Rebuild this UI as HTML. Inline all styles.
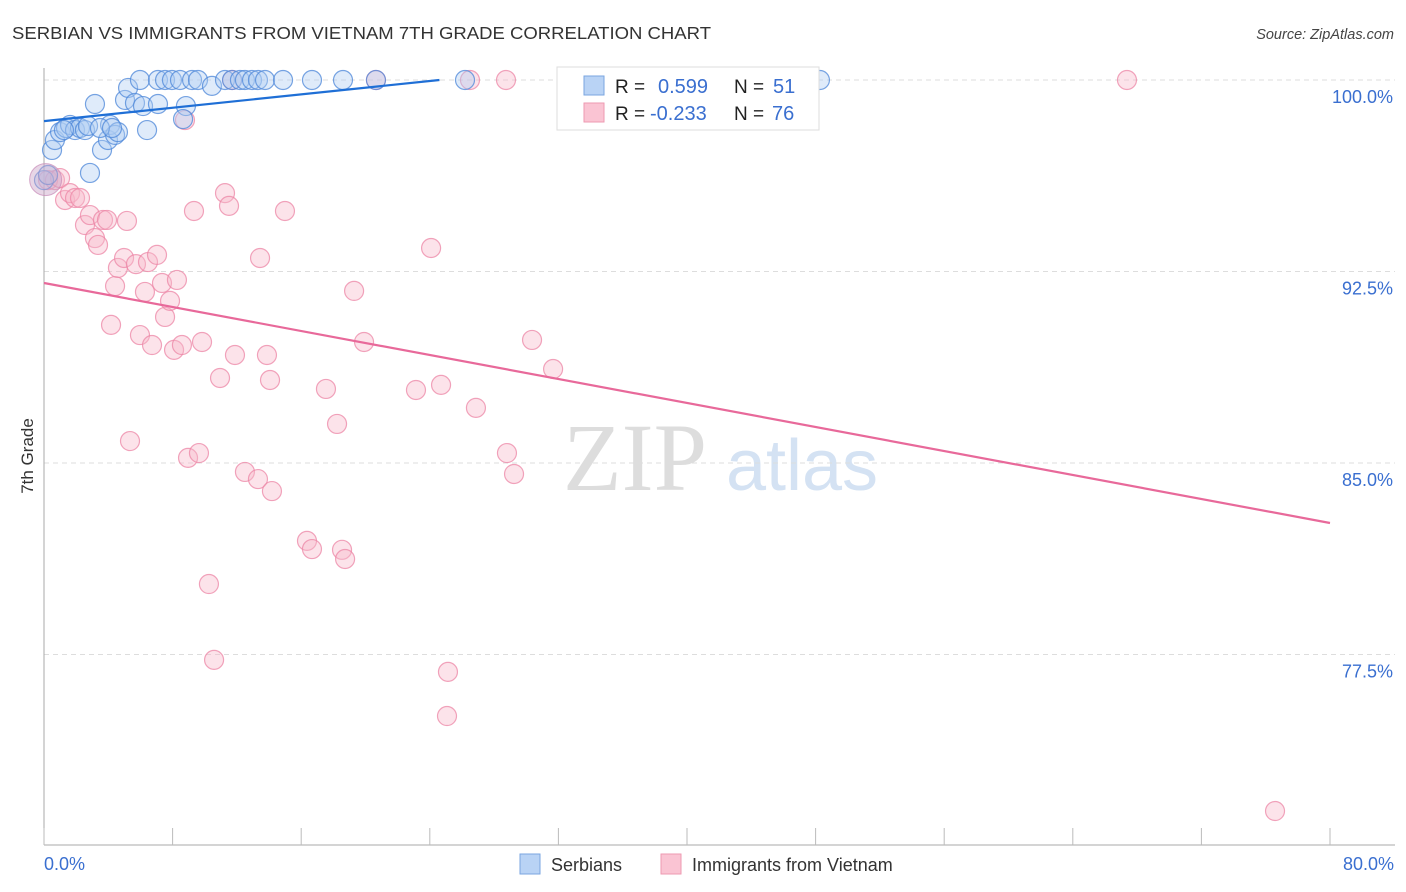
<!DOCTYPE html>
<html><head><meta charset="utf-8"><style>
body{margin:0;background:#fff;font-family:"Liberation Sans",sans-serif;}
svg{display:block}
</style></head><body>
<svg width="1406" height="892" xmlns="http://www.w3.org/2000/svg" id="chart">
<text x="12" y="39" font-size="17.5" fill="#333" textLength="699" lengthAdjust="spacingAndGlyphs">SERBIAN VS IMMIGRANTS FROM VIETNAM 7TH GRADE CORRELATION CHART</text>
<text x="1394" y="39" font-size="14.5" fill="#444" font-style="italic" text-anchor="end">Source: ZipAtlas.com</text>
<text transform="translate(33,456) rotate(-90)" font-size="17" fill="#333" text-anchor="middle">7th Grade</text>
<g>
<text x="635" y="490" font-size="96" fill="#ddd" font-family="Liberation Serif,serif" text-anchor="middle">ZIP</text>
<text x="802" y="490" font-size="72" fill="#d4e2f3" text-anchor="middle">atlas</text>
</g>
<g id="grid"></g><g id="axes"></g><g id="marks"></g>
<g>
<rect x="557" y="67" width="262" height="63" fill="#fff" stroke="#ddd"/>
<rect x="584" y="76" width="20" height="19" fill="#b9d3f5" stroke="#7aa6e0"/>
<rect x="584" y="103" width="20" height="19" fill="#fac4d3" stroke="#ee9ab2"/>
<text x="615" y="93" font-size="19" fill="#222">R = </text><text x="658" y="93" font-size="20" fill="#3a6fd0">0.599</text>
<text x="734" y="93" font-size="19" fill="#222">N = </text><text x="773" y="93" font-size="20" fill="#3a6fd0">51</text>
<text x="615" y="120" font-size="19" fill="#222">R = </text><text x="650" y="120" font-size="20" fill="#3a6fd0">-0.233</text>
<text x="734" y="120" font-size="19" fill="#222">N = </text><text x="772" y="120" font-size="20" fill="#3a6fd0">76</text>
</g>
<g>
<rect x="520" y="854" width="20" height="20" fill="#b9d3f5" stroke="#7aa6e0"/>
<text x="551" y="871" font-size="18" fill="#333">Serbians</text>
<rect x="661" y="854" width="20" height="20" fill="#fac4d3" stroke="#ee9ab2"/>
<text x="692" y="871" font-size="18" fill="#333">Immigrants from Vietnam</text>
</g>
</svg>
<script>
const yTicks=[100,92.5,85,77.5];
const yTickLabels=["100.0%","92.5%","85.0%","77.5%"];
const xTickLabels=["0.0%","80.0%"];
const blueX=[0.50,0.68,1.00,1.37,1.62,1.93,2.24,2.55,2.74,3.17,2.86,3.61,3.98,4.11,4.42,4.60,5.04,5.23,5.66,5.97,6.16,6.41,7.09,7.09,7.53,7.96,8.46,8.83,9.21,9.58,10.45,11.26,11.70,12.19,12.50,12.94,13.31,13.75,14.87,16.67,18.60,20.65,26.19,37.20,48.27,8.65,0,0.25,1.24,3.48,4.23];
const blueY=[97.26,97.65,97.96,98.12,98.24,98.04,98.12,98.04,98.20,99.06,96.36,97.26,97.65,98.24,97.85,97.96,99.22,99.69,99.10,100,98.98,98.04,100,99.06,100,100,100,98.98,100,100,99.77,100,100,100,100,100,100,100,100,100,100,100,100,100,100,98.47,96.08,96.28,98.04,98.12,98.12];
const pinkX=[0.25,0.68,1.00,1.31,1.62,1.93,2.24,2.55,2.86,3.17,3.36,3.67,3.92,4.17,4.42,4.60,4.98,5.16,5.35,5.72,5.97,6.28,6.47,6.72,7.03,7.34,7.53,7.84,8.09,8.27,8.58,8.77,8.96,9.33,9.64,9.83,10.26,10.58,10.95,11.26,11.51,11.88,12.50,13.31,13.44,13.87,14.06,14.18,14.99,16.36,16.67,17.54,18.23,18.54,18.73,19.29,19.91,20.65,23.14,24.08,24.70,25.13,25.07,26.87,28.74,28.80,29.24,30.36,31.67,43.17,67.37,76.58,26.50,11.70];
const pinkY=[96.08,96.08,96.16,95.30,95.57,95.38,95.38,94.32,94.71,93.81,93.54,94.52,94.52,90.41,91.93,92.64,93.03,94.48,85.86,92.79,90.01,91.70,92.87,89.62,93.15,92.05,90.72,91.35,89.43,92.17,89.62,98.43,85.20,94.87,85.39,89.74,80.26,77.29,88.33,95.57,95.07,89.23,84.65,84.37,93.03,89.23,88.25,83.90,94.87,81.95,81.63,87.90,86.53,81.60,81.24,91.74,89.74,100,87.86,93.42,88.06,76.82,75.09,87.16,100,85.39,84.57,89.82,88.68,100,100,71.37,100,100];
const blueTrend=[[0,98.39],[24.6,100]];
const pinkTrend=[[0,92.05],[80,82.65]];
const NS="http://www.w3.org/2000/svg";
const X=v=>44+v/80*1286, Y=v=>80+(100-v)/7.5*191.5;
function mk(t,a,p){const e=document.createElementNS(NS,t);for(const k in a)e.setAttribute(k,a[k]);p.appendChild(e);return e;}
const grid=document.getElementById('grid'),axes=document.getElementById('axes'),marks=document.getElementById('marks');
yTicks.forEach((v,i)=>{
 const l=mk('line',{x1:44,x2:1395,y1:Y(v),y2:Y(v),stroke:'#ddd','stroke-dasharray':'5,4'},grid);
 
 
 const t=mk('text',{x:1393,y:Y(v)+23,'font-size':18,fill:'#3a6fd0','text-anchor':'end'},axes);
 t.textContent=yTickLabels[i];
 
 
});
let a=mk('line',{x1:44,x2:44,y1:68,y2:845,stroke:'#aaa'},axes);


a=mk('line',{x1:44,x2:1395,y1:845,y2:845,stroke:'#aaa'},axes);


for(let i=0;i<=10;i++){
 const tk=mk('line',{x1:X(i*8),x2:X(i*8),y1:828,y2:845,stroke:'#bbb'},axes);
 
 
}
[[0,'start',44],[80,'end',1394]].forEach((d,i)=>{
 const t=mk('text',{x:d[2],y:870,'font-size':18,fill:'#3a6fd0','text-anchor':d[1]},axes);
 t.textContent=xTickLabels[i];
 
 
});
function pts(xs,ys,fill,stroke,name){
 xs.forEach((x,i)=>{
  const c=mk('circle',{cx:X(x),cy:Y(ys[i]),r:9.5,fill:fill,'fill-opacity':0.4,stroke:stroke,'stroke-opacity':0.75,'stroke-width':1.2},marks);
  
  
 });
}
pts(pinkX,pinkY,'#f8b8cb','#ec86a5','vietnam-point');
pts(blueX,blueY,'#aecdf3','#4b86d8','serbian-point');
const big1=mk('circle',{cx:X(0.1),cy:Y(96.1),r:16,fill:'#c9a3c7','fill-opacity':0.45,stroke:'#c78ab8','stroke-opacity':0.7},marks);


function trend(p,col,name){
 const l=mk('line',{x1:X(p[0][0]),y1:Y(p[0][1]),x2:X(p[1][0]),y2:Y(p[1][1]),stroke:col,'stroke-width':2.2},marks);
 
 
}
trend(blueTrend,'#1f6fd6','serbian-trend-line');
trend(pinkTrend,'#e8699a','vietnam-trend-line');
</script>
</body></html>
